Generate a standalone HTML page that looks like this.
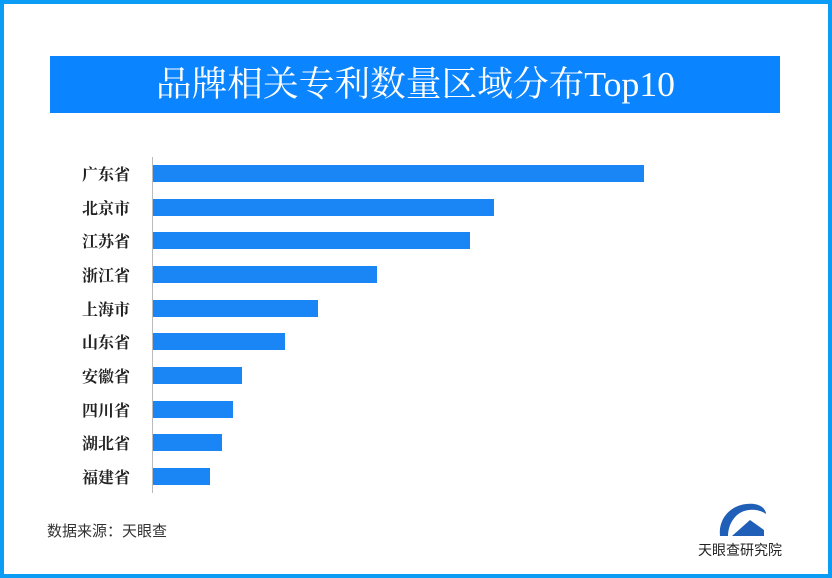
<!DOCTYPE html><html><head><meta charset="utf-8"><style>
body{margin:0;width:832px;height:578px;overflow:hidden;background:#fff;font-family:"Liberation Serif","Noto Serif CJK SC",serif}
.frame{position:absolute;left:0;top:0;width:824px;height:570px;border:4px solid #0b9cf5;}
.banner{position:absolute;left:50px;top:56px;width:730px;height:57px;background:#0a84ff;color:#fff;font-size:35px;text-align:center;line-height:57px}
.banner span{display:inline-block;transform:scaleX(1.02)}
.lab{position:absolute;left:82px;width:60px;font-size:16px;color:#222;font-weight:bold}
.bar{position:absolute;left:153px;height:17px;background:#1a86f5}
.axis{position:absolute;left:152px;top:157px;width:1px;height:336px;background:#bbb}
.src{position:absolute;left:47px;top:520px;font-size:15px;color:#333;font-family:"Liberation Sans","Noto Sans CJK SC",sans-serif}
.logo{position:absolute;left:698px;top:540px;font-size:14px;color:#222;font-family:"Liberation Sans","Noto Sans CJK SC",sans-serif}
</style></head><body>
<div class="frame"></div>
<div class="banner"><span>品牌相关专利数量区域分布Top10</span></div>
<div class="axis"></div>
<div class="lab" style="top:162px">广东省</div><div class="bar" style="top:165px;width:491px"></div>
<div class="lab" style="top:196px">北京市</div><div class="bar" style="top:199px;width:341px"></div>
<div class="lab" style="top:229px">江苏省</div><div class="bar" style="top:232px;width:317px"></div>
<div class="lab" style="top:263px">浙江省</div><div class="bar" style="top:266px;width:224px"></div>
<div class="lab" style="top:297px">上海市</div><div class="bar" style="top:300px;width:165px"></div>
<div class="lab" style="top:330px">山东省</div><div class="bar" style="top:333px;width:132px"></div>
<div class="lab" style="top:364px">安徽省</div><div class="bar" style="top:367px;width:89px"></div>
<div class="lab" style="top:398px">四川省</div><div class="bar" style="top:401px;width:80px"></div>
<div class="lab" style="top:431px">湖北省</div><div class="bar" style="top:434px;width:69px"></div>
<div class="lab" style="top:465px">福建省</div><div class="bar" style="top:468px;width:57px"></div>
<div class="src">数据来源：天眼查</div>
<svg style="position:absolute;left:716px;top:498px" width="52" height="42" viewBox="0 0 52 42">
<path d="M4 38 C2 18 18 4 38 6 C46 7 50 12 50 16 C42 10 28 10 20 18 C14 24 12 32 12 38 Z" fill="#1f5fb8"/>
<path d="M16 38 L34 22 L48 32 L48 38 Z" fill="#1f5fb8"/>
</svg>
<div class="logo">天眼查研究院</div>
</body></html>
